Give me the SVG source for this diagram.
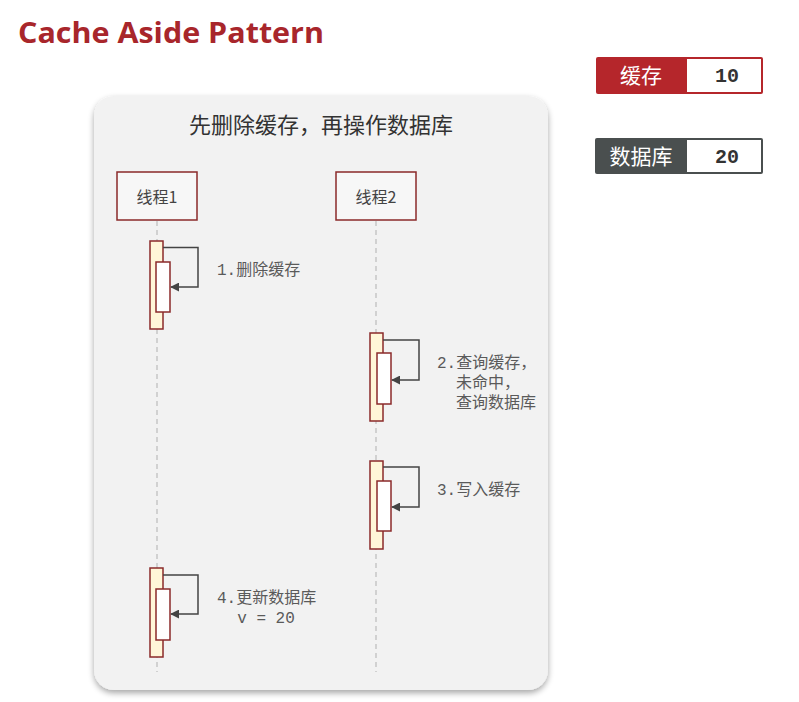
<svg xmlns="http://www.w3.org/2000/svg" width="799" height="702" viewBox="0 0 799 702">
  <defs>
    <marker id="arrow" viewBox="0 0 10 10" refX="9" refY="5" markerWidth="9" markerHeight="9" markerUnits="userSpaceOnUse" orient="auto">
      <path d="M0,0 L10,5 L0,10 z" fill="#444"/>
    </marker>
    <filter id="shadow" x="-5%" y="-5%" width="110%" height="110%">
      <feGaussianBlur in="SourceAlpha" stdDeviation="3"/>
      <feOffset dy="3" result="b"/>
      <feComponentTransfer><feFuncA type="linear" slope="0.35"/></feComponentTransfer>
      <feMerge><feMergeNode/><feMergeNode in="SourceGraphic"/></feMerge>
    </filter>
  </defs>
  <style>
    .cjk { font-family: "Noto Sans CJK SC", "Noto Sans", sans-serif; }
    .label { font-family: "Liberation Mono", "Noto Sans CJK SC", monospace; font-size: 16px; fill: #5a5a5a; }
    .thread rect { fill: #f7f7f7; stroke: #8b2a2a; stroke-width: 1.5; }
    .thread text { font-family: "Noto Sans CJK SC", sans-serif; font-size: 16px; fill: #444; text-anchor: middle; }
    .outer { fill: #fff6d8; stroke: #8b2a2a; stroke-width: 1.5; }
    .inner { fill: #ffffff; stroke: #8b2a2a; stroke-width: 1.5; }
    .life { stroke: #b0b0b0; stroke-width: 1; stroke-dasharray: 5 4; fill: none; }
    .self { stroke: #444; stroke-width: 1.5; fill: none; }
    .val { font-family: "Liberation Mono", monospace; font-weight: bold; font-size: 20px; fill: #333; text-anchor: middle; }
    .key { font-family: "Noto Sans CJK SC", sans-serif; font-size: 21px; fill: #fff; text-anchor: middle; }
  </style>

  <rect width="799" height="702" fill="#ffffff"/>

  <!-- heading -->
  <text x="18" y="43" font-family="Open Sans, Liberation Sans, sans-serif" font-weight="bold" font-size="28" fill="#a8262b" textLength="306" lengthAdjust="spacingAndGlyphs">Cache Aside Pattern</text>

  <!-- value boxes -->
  <g id="cache-value">
    <rect x="596" y="57" width="167" height="37" rx="2" fill="#b5262b"/>
    <rect x="687" y="59" width="74" height="33" fill="#ffffff"/>
    <text class="key" x="641" y="83">缓存</text>
    <text class="val" x="727" y="82">10</text>
  </g>
  <g id="db-value">
    <rect x="595" y="138" width="168" height="36" rx="2" fill="#4a4f4f"/>
    <rect x="687" y="140" width="74" height="32" fill="#ffffff"/>
    <text class="key" x="641" y="164">数据库</text>
    <text class="val" x="727" y="163">20</text>
  </g>

  <!-- panel -->
  <g id="panel">
    <rect x="94" y="96" width="454" height="594" rx="20" fill="#f2f2f2" filter="url(#shadow)"/>
    <text class="cjk" x="321" y="133" font-size="22" fill="#333" text-anchor="middle">先删除缓存，再操作数据库</text>
  </g>

  <!-- lifelines -->
  <g id="connectors">
    <line class="life" x1="157" y1="221" x2="157" y2="672"/>
    <line class="life" x1="376" y1="221" x2="376" y2="672"/>
  </g>

  <g id="thread1" class="thread">
    <rect x="117" y="172" width="80" height="48"/>
    <text x="157" y="203">线程1</text>
  </g>
  <g id="thread2" class="thread">
    <rect x="336" y="172" width="80" height="48"/>
    <text x="376" y="203">线程2</text>
  </g>

  <g id="step1">
    <rect class="outer" x="150" y="241" width="13" height="88"/>
    <rect class="inner" x="156" y="262" width="14" height="50"/>
    <path class="self" d="M163,247.5 H198 V287 H171" marker-end="url(#arrow)"/>
    <text class="label" x="217" y="275">1.删除缓存</text>
  </g>

  <g id="step2">
    <rect class="outer" x="370" y="333" width="13" height="88"/>
    <rect class="inner" x="377" y="353" width="14" height="51"/>
    <path class="self" d="M383,340 H419 V380 H392" marker-end="url(#arrow)"/>
    <text class="label" x="437" y="368">2.查询缓存，</text>
    <text class="label" x="456" y="388">未命中，</text>
    <text class="label" x="456" y="408">查询数据库</text>
  </g>

  <g id="step3">
    <rect class="outer" x="370" y="461" width="13" height="88"/>
    <rect class="inner" x="377" y="481" width="14" height="50"/>
    <path class="self" d="M383,467 H419 V507 H392" marker-end="url(#arrow)"/>
    <text class="label" x="437" y="495">3.写入缓存</text>
  </g>

  <g id="step4">
    <rect class="outer" x="150" y="568" width="13" height="89"/>
    <rect class="inner" x="156" y="589" width="14" height="51"/>
    <path class="self" d="M163,575 H198 V614 H171" marker-end="url(#arrow)"/>
    <text class="label" x="217" y="603">4.更新数据库</text>
    <text class="label" x="266" y="623" text-anchor="middle">v = 20</text>
  </g>
</svg>
